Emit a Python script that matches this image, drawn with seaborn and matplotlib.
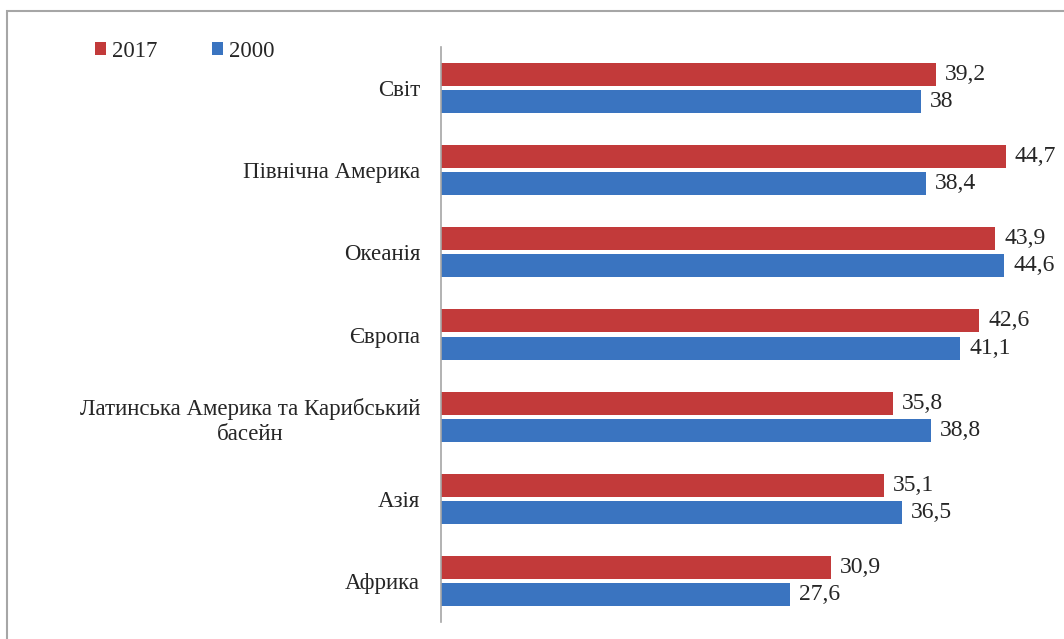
import matplotlib
matplotlib.use("Agg")
import matplotlib.pyplot as plt
import pandas as pd
import seaborn as sns
from matplotlib.patches import Rectangle

regions = ['Світ', 'Північна Америка', 'Океанія', 'Європа',
           'Латинська Америка та Карибський\nбасейн', 'Азія', 'Африка']
values_2017 = [39.2, 44.7, 43.9, 42.6, 35.8, 35.1, 30.9]
values_2000 = [38.0, 38.4, 44.6, 41.1, 38.8, 36.5, 27.6]
years = ['2017', '2000']

df = pd.DataFrame({
    'region': regions * 2,
    'value': values_2017 + values_2000,
    'year': [years[0]] * len(regions) + [years[1]] * len(regions),
})

sns.set_style('white')
plt.rcParams['font.family'] = ['Liberation Serif', 'DejaVu Serif']

fig = plt.figure(figsize=(10.64, 6.39), dpi=100)
ax = fig.add_axes([0.4145, 0.0266, 0.5441, 0.8998])

sns.barplot(data=df, y='region', x='value', hue='year', hue_order=years,
            palette=['#C23A3A', '#3A74C0'], saturation=1, orient='h',
            width=0.66, gap=0.15, linewidth=0, ax=ax)

ax.set_xlim(0, 45.84)
ax.set_xlabel('')
ax.set_ylabel('')
ax.set_xticks([])
for s in ['top', 'right', 'bottom']:
    ax.spines[s].set_visible(False)
ax.spines['left'].set_color('#A6A6A6')
ax.spines['left'].set_linewidth(1.2)
ax.tick_params(axis='y', length=0, pad=15, labelsize=16.5)
for t in ax.get_yticklabels():
    t.set_multialignment('center')
    t.set_linespacing(1.3)

for cont in ax.containers:
    labs = [f'{b.get_width():g}'.replace('.', ',') for b in cont]
    ax.bar_label(cont, labels=labs, padding=6.5, fontsize=17, clip_on=False)

handles, labels = ax.get_legend_handles_labels()
ax.legend(handles, labels, loc='center left', bbox_to_anchor=(0.0893, 0.92),
          bbox_transform=fig.transFigure, ncol=2, frameon=False, fontsize=16.5,
          handlelength=0.5, handleheight=0.5, handletextpad=0.26,
          columnspacing=2.35, borderpad=0, borderaxespad=0)

fig.patches.append(Rectangle((0.0066, -0.2), 1.5, 0.9828 + 0.2,
                             transform=fig.transFigure, fill=False,
                             edgecolor='#A6A6A6', linewidth=1.5))

fig.savefig('out.png', dpi=100)
